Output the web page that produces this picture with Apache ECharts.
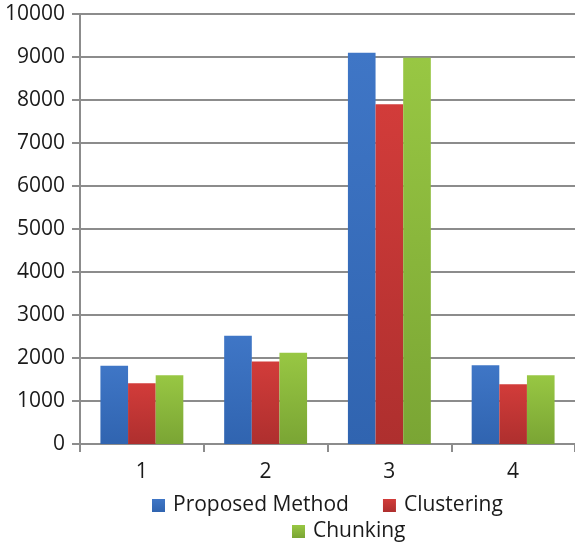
<!DOCTYPE html>
<html>
<head>
<meta charset="utf-8">
<script src="https://cdn.jsdelivr.net/npm/echarts@6/dist/echarts.min.js"></script>
<style>
  html, body { margin: 0; padding: 0; background: #fff; }
  #chart { width: 575px; height: 544px; }
</style>
</head>
<body>
<div id="chart"></div>
<script>
// Category labels along the x axis
const categories = ['1', '2', '3', '4'];

// Series values
const proposedMethod = [1820, 2520, 9100, 1830];
const clustering = [1410, 1920, 7900, 1390];
const chunking = [1600, 2120, 8980, 1600];

// Series names shown in the legend
const seriesNames = ['Proposed Method', 'Clustering', 'Chunking'];

const FONT = 'Open Sans';

function grad(top, bottom) {
  return new echarts.graphic.LinearGradient(0, 0, 0, 1, [
    { offset: 0, color: top },
    { offset: 1, color: bottom }
  ]);
}

const palette = [
  { top: '#3f76c6', bottom: '#3064b0', legend: '#3a6fbf' },
  { top: '#d23c3a', bottom: '#ae2f2e', legend: '#c9393a' },
  { top: '#98c743', bottom: '#7aa534', legend: '#8fbc42' }
];

const chart = echarts.init(document.getElementById('chart'), null, { renderer: 'canvas' });

function makeSeries(name, data, idx) {
  return {
    name: name,
    type: 'bar',
    data: data,
    barGap: '0%',
    barCategoryGap: '33%',
    itemStyle: { color: grad(palette[idx].top, palette[idx].bottom) },
    emphasis: { disabled: true }
  };
}

const legendText = { fontFamily: FONT, fontSize: 21, color: '#1a1a1a', padding: [0, 0, 0, 3] };

chart.setOption({
  animation: false,
  backgroundColor: '#ffffff',
  color: palette.map(p => p.legend),
  grid: { left: 80, right: 0, top: 14, bottom: 100 },
  legend: [
    {
      data: [seriesNames[0], seriesNames[1]],
      left: 147, top: 490,
      itemWidth: 13, itemHeight: 13, itemGap: 34,
      icon: 'rect',
      textStyle: legendText,
      selectedMode: false
    },
    {
      data: [seriesNames[2]],
      left: 287, top: 516,
      itemWidth: 13, itemHeight: 13,
      icon: 'rect',
      textStyle: legendText,
      selectedMode: false
    }
  ],
  xAxis: {
    type: 'category',
    data: categories,
    axisLine: { show: true, lineStyle: { color: '#8c8c8c', width: 2 } },
    axisTick: { show: true, alignWithLabel: false, length: 8, lineStyle: { color: '#8c8c8c', width: 2 } },
    axisLabel: { fontFamily: FONT, fontSize: 21, color: '#1a1a1a', margin: 18 }
  },
  yAxis: {
    type: 'value',
    min: 0,
    max: 10000,
    interval: 1000,
    axisLine: { show: true, lineStyle: { color: '#8c8c8c', width: 2 } },
    axisTick: { show: true, length: 8, lineStyle: { color: '#8c8c8c', width: 2 } },
    axisLabel: {
      fontFamily: FONT, fontSize: 21, color: '#1a1a1a', margin: 15,
      formatter: v => String(v)
    },
    splitLine: { show: true, lineStyle: { color: '#8c8c8c', width: 2 } }
  },
  series: [
    makeSeries(seriesNames[0], proposedMethod, 0),
    makeSeries(seriesNames[1], clustering, 1),
    makeSeries(seriesNames[2], chunking, 2)
  ]
});
</script>
</body>
</html>
